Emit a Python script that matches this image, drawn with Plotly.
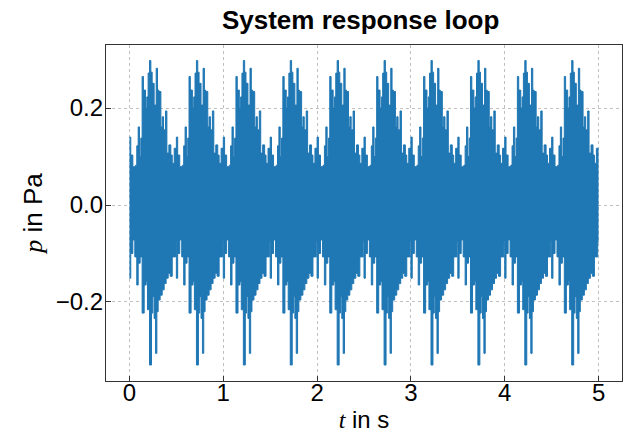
import plotly.graph_objects as go

# one loop of the system response, repeated every loop_period
loop_period = 0.5
n_loops = 10
t_end = 5.0

# upper envelope of the pressure signal within one loop
loop_t_upper = [0.000, 0.014, 0.036, 0.064, 0.078, 0.093, 0.107, 0.121, 0.135, 0.149,
                0.171, 0.185, 0.199, 0.214, 0.228, 0.242, 0.263, 0.285, 0.299, 0.313,
                0.335, 0.349, 0.363, 0.384, 0.399, 0.420, 0.441, 0.456, 0.477]
loop_p_upper = [0.140, 0.103, 0.079, 0.082, 0.122, 0.161, 0.100, 0.138, 0.265, 0.237,
                0.200, 0.223, 0.272, 0.298, 0.274, 0.251, 0.206, 0.282, 0.237, 0.234,
                0.161, 0.182, 0.155, 0.194, 0.107, 0.124, 0.103, 0.086, 0.117]

# lower envelope of the pressure signal within one loop
loop_t_lower = [0.000, 0.014, 0.036, 0.057, 0.078, 0.093, 0.114, 0.135, 0.157, 0.178,
                0.192, 0.214, 0.235, 0.249, 0.263, 0.278, 0.292, 0.306, 0.327, 0.349,
                0.370, 0.391, 0.413, 0.434, 0.456, 0.491]
loop_p_lower = [-0.151, -0.100, -0.072, -0.107, -0.165, -0.120, -0.107, -0.223, -0.165, -0.158,
                -0.216, -0.330, -0.223, -0.189, -0.234, -0.306, -0.220, -0.196, -0.186, -0.175,
                -0.162, -0.151, -0.141, -0.147, -0.107, -0.076]

x_ticks = [0, 1, 2, 3, 4, 5]
y_ticks = [-0.2, 0.0, 0.2]


def repeat_loop(t_loop, p_loop):
    # the recorded loop is played back n_loops times
    t, p = [], []
    for k in range(n_loops):
        t += [k * loop_period + v for v in t_loop]
        p += list(p_loop)
    t.append(t_end)
    p.append(p_loop[-1])
    return t, p


t_up, p_up = repeat_loop(loop_t_upper, loop_p_upper)
t_lo, p_lo = repeat_loop(loop_t_lower, loop_p_lower)

blue = '#1f77b4'
fig = go.Figure()
fig.add_trace(go.Scatter(x=t_lo, y=p_lo, mode='lines',
                         line=dict(color=blue, width=1, shape='hv'),
                         hoverinfo='skip'))
fig.add_trace(go.Scatter(x=t_up, y=p_up, mode='lines', fill='tonexty',
                         fillcolor=blue,
                         line=dict(color=blue, width=1, shape='hv'),
                         hoverinfo='skip'))

sans = 'Liberation Sans, Arial, sans-serif'
tick_font = dict(family=sans, size=24, color='black')
axis_common = dict(
    showline=True, linecolor='#333333', linewidth=1.2, mirror=True,
    ticks='inside', ticklen=5, tickwidth=1, tickcolor='#333333',
    showgrid=True, gridcolor='#c0c0c0', gridwidth=0.7, griddash='dot',
    zeroline=False, tickfont=tick_font, automargin=False,
)

fig.update_layout(
    width=624, height=434,
    paper_bgcolor='white', plot_bgcolor='white',
    showlegend=False,
    margin=dict(l=106, r=2, t=45, b=53),
    title=dict(text='<b>System response loop</b>', x=0.578, xanchor='center',
               y=0.975, yanchor='top',
               font=dict(family=sans, size=26, color='black')),
    xaxis=dict(range=[-0.25, 5.25], tickvals=x_ticks, ticklabelstandoff=-10,
               title=dict(text="<span style=\"font-family:'Liberation Serif'\"><i>t</i></span> in s",
                          font=dict(family=sans, size=24, color='black'),
                          standoff=6),
               **axis_common),
    yaxis=dict(range=[-0.363, 0.330], tickvals=y_ticks, tickformat='.1f', ticklabelstandoff=-3,
               title=dict(text="<span style=\"font-family:'Liberation Serif'\"><i>p</i></span> in Pa",
                          font=dict(family=sans, size=26, color='black'),
                          standoff=5),
               **axis_common),
)

# page body has a default margin; drop it so the figure fills the window exactly
fig.write_html("out.html", config={'displayModeBar': False},
               post_script="document.body.style.margin='0';")
